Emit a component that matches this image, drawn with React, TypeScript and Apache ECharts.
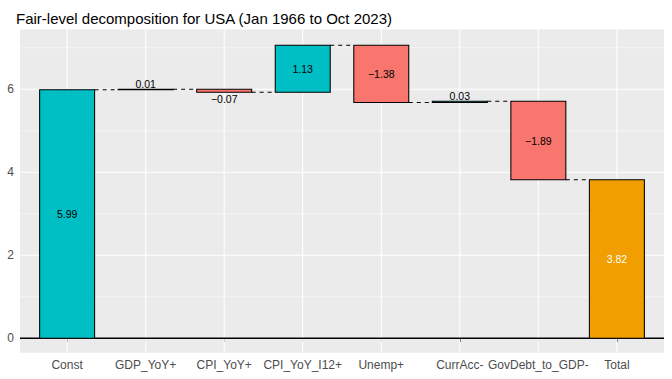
import React, { useEffect, useRef } from "react";
import * as echarts from "echarts";

const categories = ["Const", "GDP_YoY+", "CPI_YoY+", "CPI_YoY_I12+", "Unemp+", "CurrAcc-", "GovDebt_to_GDP-", "Total"];
const contributions = [5.99, 0.01, -0.07, 1.13, -1.38, 0.03, -1.89];
const totalValue = 3.82;
const yTickValues = [0, 2, 4, 6];
const yMinorValues = [1, 3, 5, 7];

const TEAL = "#00BFC4";
const SALMON = "#F8766D";
const ORANGE = "#F09E00";
const FONT = '"Liberation Sans", Arial, sans-serif';

const X_MIN = -0.6;
const X_MAX = 7.6;
const Y_MIN = -0.347;
const Y_MAX = 7.441;

function fmt(v: number) {
  return v.toFixed(2).replace("-", "\u2212");
}

export default function App() {
  const ref = useRef<HTMLDivElement>(null);

  useEffect(() => {
    if (!ref.current) return;
    const chart = echarts.init(ref.current, undefined, { renderer: "svg" });

    const bars: any[] = [];
    let cum = 0;
    contributions.forEach((v, i) => {
      const s = cum;
      const e = cum + v;
      cum = e;
      bars.push([i, s, e, v, 0]);
    });
    bars.push([categories.length - 1, 0, totalValue, totalValue, 1]);

    const idx = categories.map((_, i) => i);

    const option: any = {
      animation: false,
      backgroundColor: "#FFFFFF",
      title: {
        text: "Fair-level decomposition for USA (Jan 1966 to Oct 2023)",
        left: 11,
        top: 6,
        textStyle: { fontFamily: FONT, fontSize: 15, fontWeight: "normal", color: "#000000" },
      },
      grid: {
        left: 20,
        right: 8,
        top: 29.5,
        bottom: 26.3,
        show: true,
        backgroundColor: "#EBEBEB",
        borderWidth: 0,
      },
      xAxis: {
        type: "value",
        min: X_MIN,
        max: X_MAX,
        axisLine: { show: false },
        splitLine: { show: false },
        axisTick: { show: true, customValues: idx, length: 3.7, lineStyle: { color: "#333333", width: 1 } },
        axisLabel: {
          customValues: idx,
          formatter: (v: number) => categories[Math.round(v)],
          color: "#4D4D4D",
          fontFamily: FONT,
          fontSize: 12,
          margin: 6.5,
          hideOverlap: false,
        },
      },
      yAxis: {
        type: "value",
        min: Y_MIN,
        max: Y_MAX,
        axisLine: { show: false },
        splitLine: { show: false },
        axisTick: { show: true, customValues: yTickValues, length: 3.7, lineStyle: { color: "#333333", width: 1 } },
        axisLabel: {
          customValues: yTickValues,
          color: "#4D4D4D",
          fontFamily: FONT,
          fontSize: 12,
          margin: 6,
        },
      },
      series: [
        {
          type: "custom",
          z: 1,
          silent: true,
          data: [[0, 0]],
          renderItem: (params: any, api: any) => {
            const children: any[] = [];
            yMinorValues.forEach((y) => {
              const a = api.coord([X_MIN, y]);
              const b = api.coord([X_MAX, y]);
              children.push({ type: "line", shape: { x1: a[0], y1: a[1], x2: b[0], y2: b[1] }, style: { stroke: "#FFFFFF", lineWidth: 0.55 } });
            });
            yTickValues.forEach((y) => {
              const a = api.coord([X_MIN, y]);
              const b = api.coord([X_MAX, y]);
              children.push({ type: "line", shape: { x1: a[0], y1: a[1], x2: b[0], y2: b[1] }, style: { stroke: "#FFFFFF", lineWidth: 1.1 } });
            });
            idx.forEach((x) => {
              const a = api.coord([x, Y_MIN]);
              const b = api.coord([x, Y_MAX]);
              children.push({ type: "line", shape: { x1: a[0], y1: a[1], x2: b[0], y2: b[1] }, style: { stroke: "#FFFFFF", lineWidth: 1.1 } });
            });
            return { type: "group", children };
          },
        },
        {
          type: "custom",
          z: 3,
          silent: true,
          data: [[0, 0]],
          renderItem: (params: any, api: any) => {
            const a = api.coord([X_MIN, 0]);
            const b = api.coord([X_MAX, 0]);
            return { type: "line", shape: { x1: a[0], y1: a[1], x2: b[0], y2: b[1] }, style: { stroke: "#000000", lineWidth: 1.4 } };
          },
        },
        {
          type: "custom",
          z: 4,
          silent: true,
          data: bars,
          renderItem: (params: any, api: any) => {
            const i = api.value(0);
            const s = api.value(1);
            const e = api.value(2);
            const v = api.value(3);
            const isTotal = api.value(4) === 1;
            const half = 0.35;
            const tl = api.coord([i - half, Math.max(s, e)]);
            const br = api.coord([i + half, Math.min(s, e)]);
            const fill = isTotal ? ORANGE : v >= 0 ? TEAL : SALMON;
            const children: any[] = [];
            children.push({
              type: "rect",
              shape: { x: tl[0], y: tl[1], width: br[0] - tl[0], height: br[1] - tl[1] },
              style: { fill, stroke: "#000000", lineWidth: 1.05 },
            });
            const cx = (tl[0] + br[0]) / 2;
            let ly = (tl[1] + br[1]) / 2;
            if (Math.abs(v) < 0.2) {
              ly = v >= 0 ? tl[1] - 5.5 : br[1] + 7;
            }
            children.push({
              type: "text",
              x: cx,
              y: ly,
              style: {
                text: fmt(v),
                fill: isTotal ? "#FFFFFF" : "#000000",
                font: `10.5px ${FONT}`,
                align: "center",
                verticalAlign: "middle",
                textAlign: "center",
                textVerticalAlign: "middle",
              },
            });
            if (i < categories.length - 1) {
              const p = api.coord([i + half, e]);
              const q = api.coord([i + 1 - half, e]);
              children.push({
                type: "line",
                shape: { x1: p[0], y1: p[1], x2: q[0], y2: q[1] },
                style: { stroke: "#000000", lineWidth: 1.05, lineDash: [4, 4] },
              });
            }
            return { type: "group", children };
          },
        },
      ],
    };

    chart.setOption(option);
    return () => chart.dispose();
  }, []);

  return (
    <div
      ref={ref}
      style={{ position: "absolute", left: 0, top: 0, width: 672, height: 379 }}
    />
  );
}
